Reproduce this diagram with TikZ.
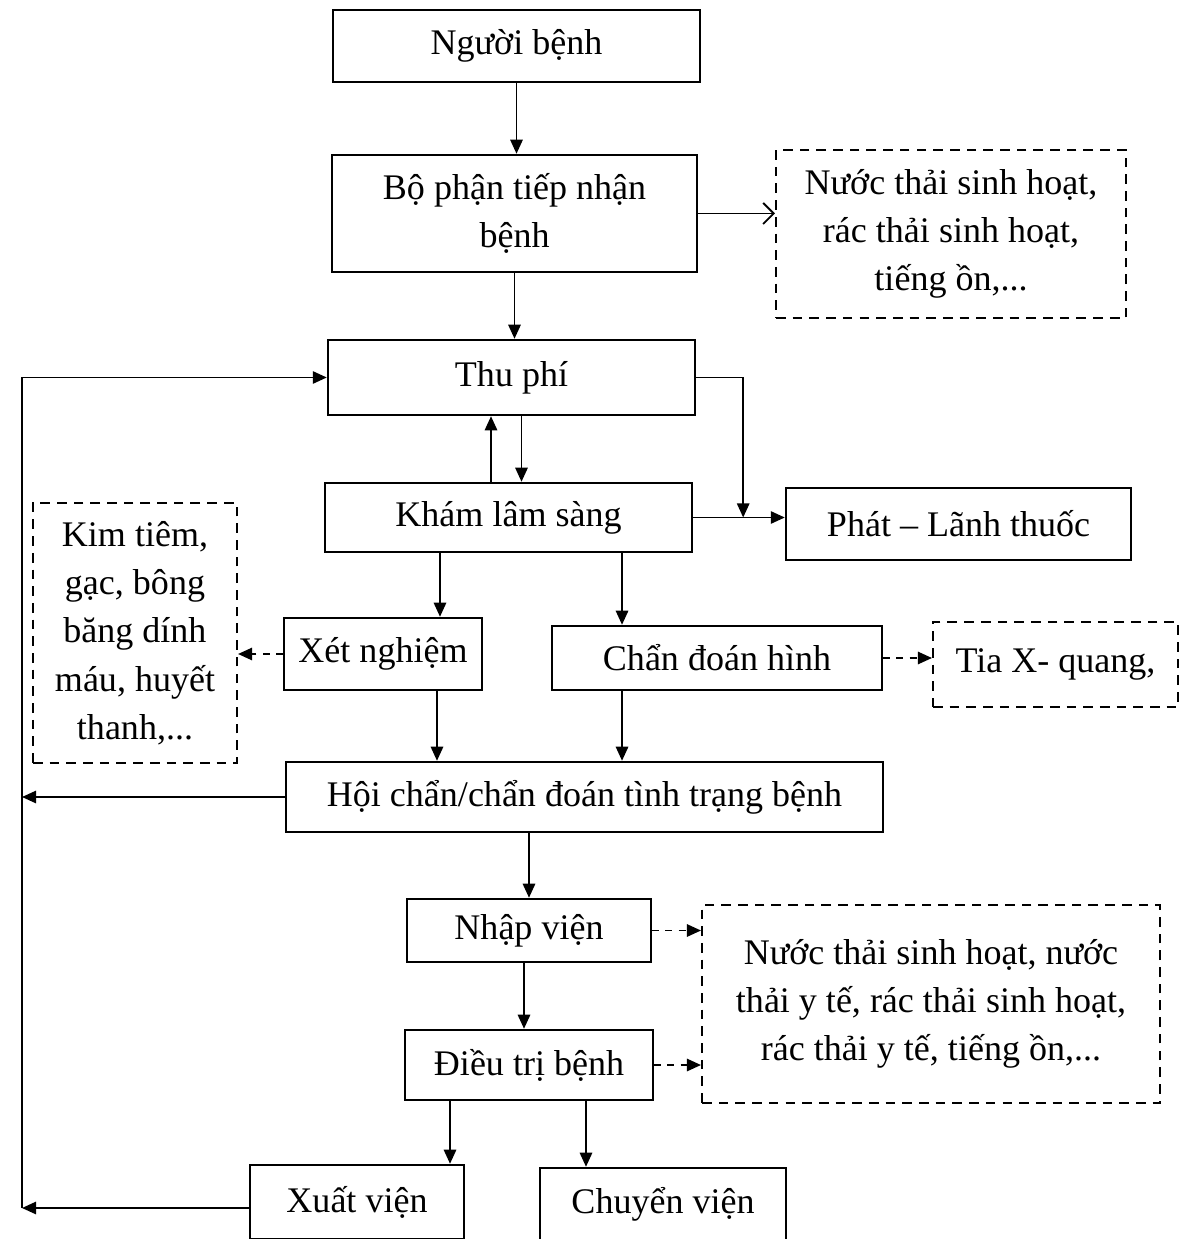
\documentclass[tikz,border=0pt]{standalone}
\usepackage{fontspec}
\setmainfont{Liberation Serif}
\usetikzlibrary{arrows.meta}

\begin{document}
\begin{tikzpicture}[x=0.02cm, y=-0.02cm]
% Flow chart of the patient path, coordinates in scan pixels
\providecommand{\flowLineWidth}{1.1pt}
\providecommand{\flowBoxLineWidth}{1.4pt}
\providecommand{\flowFont}{\fontsize{20.5}{27.5}\selectfont}
\tikzset{
  stepbox/.style={draw, line width=\flowBoxLineWidth, align=center, inner sep=0pt, font=\flowFont},
  wastebox/.style={stepbox, line width=1.2pt, dash pattern=on 5.5pt off 4pt},
  arr/.style={draw, line width=\flowLineWidth, -{Triangle[length=8pt,width=7pt]}},
  darr/.style={arr, dash pattern=on 4pt off 3.5pt},
  oarr/.style={draw, line width=\flowLineWidth, -{Straight Barb[length=6pt,width=12pt]}},
}
\useasboundingbox (0,0) rectangle (1181,1239);
% Steps
\node[stepbox, minimum width=7.34cm, minimum height=1.44cm] (nguoi) at (516.5,46) {Người bệnh};
\node[stepbox, minimum width=7.3cm, minimum height=2.34cm] (tiepnhan) at (514.5,213.5) {Bộ phận tiếp nhận\\bệnh};
\node[stepbox, minimum width=7.34cm, minimum height=1.5cm] (thuphi) at (511.5,377.5) {Thu phí};
\node[stepbox, minimum width=7.34cm, minimum height=1.38cm] (kham) at (508.5,517.5) {Khám lâm sàng};
\node[stepbox, minimum width=6.9cm, minimum height=1.44cm] (thuoc) at (958.5,524) {Phát -- Lãnh thuốc};
\node[stepbox, minimum width=3.96cm, minimum height=1.44cm] (xetnghiem) at (383,654) {Xét nghiệm};
\node[stepbox, minimum width=6.6cm, minimum height=1.28cm] (chandoan) at (717,658) {Chẩn đoán hình};
\node[stepbox, minimum width=11.94cm, minimum height=1.4cm] (hoichan) at (584.5,797) {Hội chẩn/chẩn đoán tình trạng bệnh};
\node[stepbox, minimum width=4.88cm, minimum height=1.26cm] (nhapvien) at (529,930.5) {Nhập viện};
\node[stepbox, minimum width=4.96cm, minimum height=1.4cm] (dieutri) at (529,1065) {Điều trị bệnh};
\node[stepbox, minimum width=4.28cm, minimum height=1.48cm] (xuatvien) at (357,1202) {Xuất viện};
\node[stepbox, minimum width=4.92cm, minimum height=1.44cm] (chuyenvien) at (663,1204) {Chuyển viện};
% Waste boxes
\node[wastebox, minimum width=7cm, minimum height=3.36cm] (thaiA) at (951,234) {Nước thải sinh hoạt,\\rác thải sinh hoạt,\\tiếng ồn,...};
\node[wastebox, minimum width=4.08cm, minimum height=5.2cm] (kimtiem) at (135,633) {Kim tiêm,\\gạc, bông\\băng dính\\máu, huyết\\thanh,...};
\node[wastebox, minimum width=4.9cm, minimum height=1.7cm] (xquang) at (1055.5,664.5) {Tia X- quang,};
\node[wastebox, minimum width=9.16cm, minimum height=3.96cm] (thaiB) at (931,1004) {Nước thải sinh hoạt, nước\\thải y tế, rác thải sinh hoạt,\\rác thải y tế, tiếng ồn,...};
% Helper points
\coordinate (rail) at (22,0);
\coordinate (fork) at ([xshift=1cm]kham.east);
% Main flow
\draw[arr] (nguoi.south) -- (nguoi.south |- tiepnhan.north);
\draw[oarr] (tiepnhan.east) -- (tiepnhan.east -| thaiA.west);
\draw[arr] (tiepnhan.south) -- (tiepnhan.south |- thuphi.north);
\draw[arr] ([xshift=-0.35cm]kham.north) -- ([xshift=-0.35cm]kham.north |- thuphi.south);
\draw[arr] ([xshift=0.2cm]thuphi.south) -- ([xshift=0.2cm]thuphi.south |- kham.north);
\draw[arr] (thuphi.east) -| (fork);
\draw[arr] (kham.east) -- (kham.east -| thuoc.west);
\draw[arr] ([xshift=1.14cm]xetnghiem.north |- kham.south) -- ([xshift=1.14cm]xetnghiem.north);
\draw[arr] ([xshift=-1.9cm]chandoan.north |- kham.south) -- ([xshift=-1.9cm]chandoan.north);
\draw[darr] (xetnghiem.west) -- (xetnghiem.west -| kimtiem.east);
\draw[darr] (chandoan.east) -- (chandoan.east -| xquang.west);
\draw[arr] ([xshift=1.08cm]xetnghiem.south) -- ([xshift=1.08cm]xetnghiem.south |- hoichan.north);
\draw[arr] ([xshift=-1.9cm]chandoan.south) -- ([xshift=-1.9cm]chandoan.south |- hoichan.north);
\draw[arr] (hoichan.west) -- (hoichan.west -| rail);
\draw[arr] (nhapvien.north |- hoichan.south) -- (nhapvien.north);
\draw[darr] (nhapvien.east) -- (nhapvien.east -| thaiB.west);
\draw[arr] ([xshift=-0.1cm]nhapvien.south) -- ([xshift=-0.1cm]nhapvien.south |- dieutri.north);
\draw[darr] (dieutri.east) -- (dieutri.east -| thaiB.west);
\draw[arr] ([xshift=-1.58cm]dieutri.south) -- ([xshift=-1.58cm]dieutri.south |- xuatvien.north);
\draw[arr] ([xshift=1.14cm]dieutri.south) -- ([xshift=1.14cm]dieutri.south |- chuyenvien.north);
% Return path to Thu phi
\draw[arr] ([yshift=-0.12cm]xuatvien.west) -- ([yshift=-0.12cm]xuatvien.west -| rail);
\draw[arr] ([yshift=-0.12cm]xuatvien.west -| rail) |- (thuphi.west);
\end{tikzpicture}
\end{document}
